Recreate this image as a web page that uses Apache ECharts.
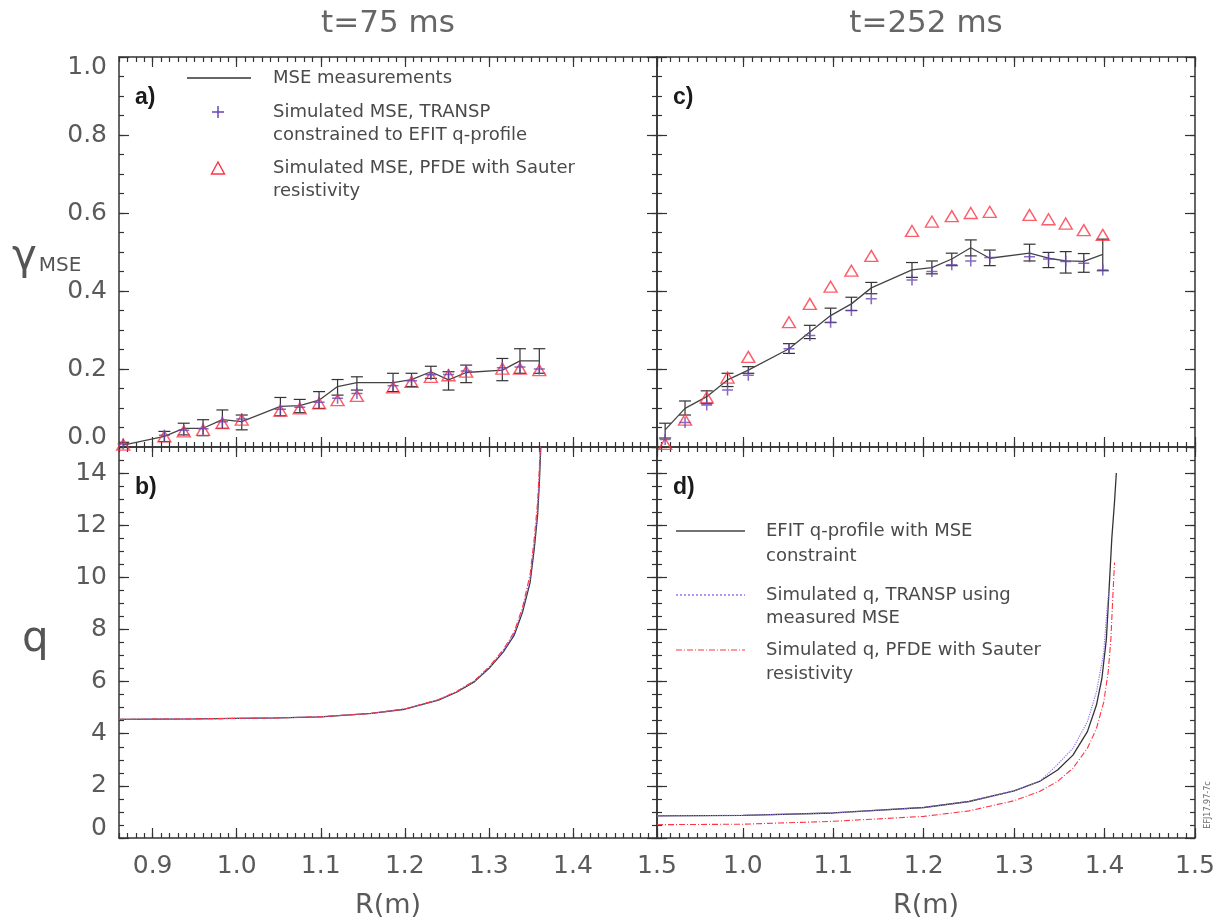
<!DOCTYPE html>
<html><head><meta charset="utf-8">
<script src="https://cdn.jsdelivr.net/npm/echarts@6/dist/echarts.min.js"></script>
<style>html,body{margin:0;padding:0;background:#fff}#c{width:1227px;height:924px}</style>
</head><body><div id="c"></div><script>
// ---------- Panel a (t=75 ms, gamma_MSE) ----------
var aR      = [0.865,0.914,0.937,0.960,0.983,1.006,1.052,1.075,1.098,1.120,1.143,1.186,1.208,1.231,1.252,1.273,1.316,1.337,1.360];
var aMSE    = [0.005,0.027,0.048,0.048,0.070,0.065,0.104,0.106,0.120,0.155,0.165,0.165,0.173,0.193,0.172,0.191,0.197,0.221,0.221];
var aErrLo  = [0.000,0.014,0.031,0.029,0.048,0.044,0.080,0.088,0.099,0.133,0.146,0.142,0.155,0.176,0.146,0.165,0.170,0.189,0.189];
var aErrHi  = [0.012,0.040,0.061,0.070,0.095,0.082,0.127,0.122,0.142,0.173,0.180,0.189,0.189,0.207,0.193,0.210,0.227,0.252,0.252];
var aTRANSP = [0.008,0.030,0.043,0.047,0.065,0.072,0.097,0.102,0.115,0.125,0.137,0.157,0.170,0.185,0.186,0.195,0.203,0.205,0.200];
var aPFDE   = [0.006,0.027,0.040,0.044,0.061,0.070,0.093,0.099,0.112,0.120,0.131,0.153,0.167,0.180,0.184,0.193,0.201,0.201,0.197];

// ---------- Panel c (t=252 ms, gamma_MSE) ----------
var cR      = [0.914,0.936,0.960,0.983,1.006,1.051,1.074,1.097,1.120,1.142,1.187,1.209,1.231,1.252,1.273,1.317,1.338,1.357,1.377,1.398];
var cMSE    = [0.044,0.099,0.129,0.172,0.197,0.252,0.295,0.337,0.367,0.408,0.454,0.460,0.482,0.511,0.484,0.497,0.484,0.477,0.476,0.494];
var cErrLo  = [0.023,0.082,0.112,0.155,0.189,0.240,0.278,0.319,0.350,0.393,0.435,0.444,0.465,0.490,0.465,0.477,0.460,0.446,0.448,0.452];
var cErrHi  = [0.061,0.118,0.144,0.189,0.206,0.265,0.312,0.356,0.384,0.422,0.473,0.477,0.497,0.531,0.505,0.520,0.499,0.501,0.496,0.533];
var cTRANSP = [0.019,0.063,0.108,0.146,0.184,0.252,0.286,0.320,0.350,0.380,0.428,0.450,0.467,0.477,0.486,0.488,0.482,0.476,0.471,0.454];
var cPFDE   = [0.008,0.070,0.127,0.178,0.231,0.320,0.367,0.411,0.452,0.490,0.554,0.578,0.592,0.600,0.603,0.595,0.584,0.573,0.556,0.544];

// ---------- Panel b (t=75 ms, q) ----------
var bR      = [0.86,0.95,1.00,1.05,1.10,1.16,1.20,1.24,1.262,1.283,1.300,1.317,1.330,1.340,1.349,1.354,1.358,1.360,1.362];
var bEFIT   = [4.55,4.57,4.59,4.61,4.65,4.78,4.94,5.29,5.60,6.00,6.50,7.13,7.77,8.66,9.80,11.1,12.4,13.6,15.2];
var bTRANSP = [4.55,4.57,4.59,4.61,4.65,4.78,4.95,5.30,5.62,6.02,6.53,7.18,7.83,8.75,9.92,11.3,12.6,13.8,15.4];
var bPFDE   = [4.55,4.57,4.59,4.61,4.65,4.78,4.95,5.31,5.63,6.04,6.56,7.22,7.90,8.85,10.1,11.5,12.9,14.2,15.6];

// ---------- Panel d (t=252 ms, q) ----------
var dR_EFIT   = [0.905,1.000,1.100,1.200,1.250,1.300,1.328,1.348,1.365,1.381,1.391,1.397,1.402,1.405,1.408,1.411,1.413];
var dEFIT     = [0.85,0.87,0.96,1.17,1.40,1.81,2.17,2.61,3.18,4.08,5.10,6.11,7.64,9.55,11.5,12.9,14.0];
var dR_TRANSP = [0.905,1.000,1.100,1.200,1.250,1.300,1.328,1.344,1.365,1.381,1.391,1.399,1.403,1.405];
var dTRANSP   = [0.85,0.87,0.96,1.17,1.40,1.81,2.17,2.68,3.44,4.46,5.60,7.10,8.90,9.50];
var dR_PFDE   = [0.905,1.000,1.100,1.200,1.250,1.300,1.328,1.348,1.365,1.381,1.391,1.399,1.404,1.407,1.409,1.411];
var dPFDE     = [0.51,0.53,0.64,0.83,1.04,1.43,1.78,2.17,2.68,3.44,4.20,5.20,6.37,7.64,9.17,10.57];

// ---------- Axes ----------
var xLeftRange  = [0.86, 1.5];
var xRightRange = [0.905, 1.5];
var xMajorTicks = [0.9, 1.0, 1.1, 1.2, 1.3, 1.4, 1.5];
var gammaRange = [0, 1.0];
var gammaTicks = [0, 0.2, 0.4, 0.6, 0.8, 1.0];
var qRange = [0, 15];
var qTicks = [0, 2, 4, 6, 8, 10, 12, 14];

function steps(a, b, st) {
  var out = [], n = Math.round((b - a) / st);
  for (var i = 0; i <= n; i++) out.push(+(a + i * st).toFixed(4));
  return out;
}
function within(arr, r) { return arr.filter(function (v) { return v >= r[0] - 1e-9 && v <= r[1] + 1e-9; }); }

var LABEL_COLOR = '#5a5a5a';
var FONT = 'DejaVu Sans';
var AX = '#333';

function xAxesFor(gi, range, labels, name) {
  var majors = within(xMajorTicks, range);
  var minors = within(steps(0.8, 1.5, 0.01), range);
  function base(pos, isMajor, main) {
    return {
      type: 'value', gridIndex: gi, position: pos, min: range[0], max: range[1],
      axisLine: { show: main, onZero: false, lineStyle: { color: AX, width: 1.5 } },
      splitLine: { show: false },
      axisTick: { show: true, inside: true, length: isMajor ? 10 : 5, customValues: isMajor ? majors : minors,
                  lineStyle: { color: AX, width: 1.2 } },
      axisLabel: { show: false }
    };
  }
  var b = base('bottom', true, true);
  if (labels) {
    b.axisLabel = { show: true, customValues: majors, margin: 16, color: LABEL_COLOR, fontSize: 25, fontFamily: FONT,
                    formatter: function (v) { return v.toFixed(1); } };
  }
  if (name) {
    b.name = name; b.nameLocation = 'middle'; b.nameGap = 54;
    b.nameTextStyle = { color: LABEL_COLOR, fontSize: 27, fontFamily: FONT };
  }
  return [b, base('bottom', false, false), base('top', true, true), base('top', false, false)];
}

function yAxesFor(gi, range, majorsAll, minorStep, labels, fmt) {
  var majors = within(majorsAll, range);
  var minors = within(steps(range[0], range[1], minorStep), range);
  function base(pos, isMajor, main) {
    return {
      type: 'value', gridIndex: gi, position: pos, min: range[0], max: range[1],
      axisLine: { show: main, onZero: false, lineStyle: { color: AX, width: 1.5 } },
      splitLine: { show: false },
      axisTick: { show: true, inside: true, length: isMajor ? 10 : 5, customValues: isMajor ? majors : minors,
                  lineStyle: { color: AX, width: 1.2 } },
      axisLabel: { show: false }
    };
  }
  var l = base('left', true, true);
  if (labels) {
    var rs = { color: LABEL_COLOR, fontSize: 25, fontFamily: FONT };
    l.axisLabel = { show: true, customValues: majors, margin: 12, color: LABEL_COLOR, fontSize: 25, fontFamily: FONT,
      formatter: fmt,
      rich: {
        n: rs,
        up: Object.assign({ padding: [0, 0, 20, 0] }, rs),
        dn: Object.assign({ padding: [20, 0, 0, 0] }, rs)
      } };
  }
  return [l, base('left', false, false), base('right', true, true), base('right', false, false)];
}

var gammaFmt = function (v) {
  if (Math.abs(v) < 1e-9) return '{up|0.0}';
  if (Math.abs(v - 1) < 1e-9) return '{dn|1.0}';
  return '{n|' + v.toFixed(1) + '}';
};
var qFmt = function (v) {
  if (Math.abs(v) < 1e-9) return '{up|0}';
  return '{n|' + v + '}';
};

// grids: 0=a, 1=c, 2=b, 3=d
var grids = [
  { left: 119, top: 57, width: 538, height: 390 },
  { left: 657, top: 57, width: 538, height: 390 },
  { left: 119, top: 447, width: 538, height: 391 },
  { left: 657, top: 447, width: 538, height: 391 }
].map(function (g) { g.containLabel = false; g.outerBoundsMode = 'none'; return g; });

var xAxes = [].concat(
  xAxesFor(0, xLeftRange, false),
  xAxesFor(1, xRightRange, false),
  xAxesFor(2, xLeftRange, true, 'R(m)'),
  xAxesFor(3, xRightRange, true, 'R(m)')
);
var yAxes = [].concat(
  yAxesFor(0, gammaRange, gammaTicks, 0.05, true, gammaFmt),
  yAxesFor(1, gammaRange, gammaTicks, 0.05, false),
  yAxesFor(2, qRange, qTicks, 0.5, true, qFmt),
  yAxesFor(3, qRange, qTicks, 0.5, false)
);
// main axis index for grid g is 4*g

var PURPLE = '#6a45b0';
var PURPLE_LINE = '#9a74ec';
var RED = '#ff3344';
var PLUS = 'path://M4.3,0H5.7V4.3H10V5.7H5.7V10H4.3V5.7H0V4.3H4.3Z';

function zip(xs, ys) { return xs.map(function (x, i) { return [x, ys[i]]; }); }

function errSeries(g, xs, lo, hi) {
  return {
    type: 'custom', xAxisIndex: 4 * g, yAxisIndex: 4 * g, clip: true, z: 3,
    data: xs.map(function (x, i) { return [x, lo[i], hi[i]]; }),
    encode: { x: 0, y: [1, 2] },
    renderItem: function (params, api) {
      var x = api.value(0);
      var p1 = api.coord([x, api.value(1)]), p2 = api.coord([x, api.value(2)]);
      var w = 6, st = { stroke: '#333', lineWidth: 1.2 };
      return { type: 'group', children: [
        { type: 'line', shape: { x1: p1[0], y1: p1[1], x2: p2[0], y2: p2[1] }, style: st },
        { type: 'line', shape: { x1: p1[0] - w, y1: p1[1], x2: p1[0] + w, y2: p1[1] }, style: st },
        { type: 'line', shape: { x1: p2[0] - w, y1: p2[1], x2: p2[0] + w, y2: p2[1] }, style: st }
      ] };
    }
  };
}
function mseLine(g, xs, ys) {
  return { type: 'line', xAxisIndex: 4 * g, yAxisIndex: 4 * g, data: zip(xs, ys), showSymbol: false, symbol: 'none',
           lineStyle: { color: '#444', width: 1.3 }, z: 3 };
}
function triSeries(g, xs, ys) {
  return { type: 'scatter', xAxisIndex: 4 * g, yAxisIndex: 4 * g, data: zip(xs, ys), symbol: 'triangle', symbolSize: [13, 11],
           itemStyle: { color: 'rgba(0,0,0,0)', borderColor: RED, borderWidth: 1.4 }, z: 4 };
}
function plusSeries(g, xs, ys) {
  return { type: 'scatter', xAxisIndex: 4 * g, yAxisIndex: 4 * g, data: zip(xs, ys), symbol: PLUS, symbolSize: 11,
           itemStyle: { color: PURPLE }, z: 5 };
}
function qLine(g, xs, ys, color, type, width) {
  return { type: 'line', xAxisIndex: 4 * g, yAxisIndex: 4 * g, data: zip(xs, ys), showSymbol: false, symbol: 'none',
           smooth: false, clip: true,
           lineStyle: { color: color, width: width, type: type }, z: 3 };
}

var series = [
  errSeries(0, aR, aErrLo, aErrHi), mseLine(0, aR, aMSE), triSeries(0, aR, aPFDE), plusSeries(0, aR, aTRANSP),
  errSeries(1, cR, cErrLo, cErrHi), mseLine(1, cR, cMSE), triSeries(1, cR, cPFDE), plusSeries(1, cR, cTRANSP),
  qLine(2, bR, bEFIT, '#333', 'solid', 1.3),
  qLine(2, bR, bTRANSP, PURPLE_LINE, 'dotted', 1.2),
  qLine(2, bR, bPFDE, RED, [6, 2, 1, 2], 1.1),
  qLine(3, dR_EFIT, dEFIT, '#333', 'solid', 1.3),
  qLine(3, dR_TRANSP, dTRANSP, PURPLE_LINE, 'dotted', 1.2),
  qLine(3, dR_PFDE, dPFDE, RED, [6, 2, 1, 2], 1.1)
];

var LT = { fill: '#4a4a4a', font: '18px "DejaVu Sans"', verticalAlign: 'middle', align: 'left' };
function txt(x, y, s, extra) { return { type: 'text', x: x, y: y, style: Object.assign({ text: s }, LT, extra || {}), z: 10 }; }
function ln(x1, y1, x2, y2, stroke, w, dash) {
  return { type: 'line', shape: { x1: x1, y1: y1, x2: x2, y2: y2 }, style: { stroke: stroke, lineWidth: w, lineDash: dash || null }, z: 10 };
}

var graphic = [
  txt(388, 24, 't=75 ms', { font: '31px "DejaVu Sans"', fill: '#666', align: 'center' }),
  txt(926, 24, 't=252 ms', { font: '31px "DejaVu Sans"', fill: '#666', align: 'center' }),
  { type: 'text', x: 12, y: 258, z: 10, style: { text: '{g|γ}{s|MSE}', verticalAlign: 'middle', rich: {
      g: { font: '42px "DejaVu Sans"', fill: '#555' },
      s: { font: '20px "DejaVu Sans"', fill: '#555', padding: [16, 0, 0, 2] } } } },
  txt(22, 640, 'q', { font: '42px "DejaVu Sans"', fill: '#555' }),
  txt(135, 98, 'a)', { font: 'bold 23px "Liberation Sans"', fill: '#1a1a1a' }),
  txt(135, 488, 'b)', { font: 'bold 23px "Liberation Sans"', fill: '#1a1a1a' }),
  txt(673, 98, 'c)', { font: 'bold 23px "Liberation Sans"', fill: '#1a1a1a' }),
  txt(673, 488, 'd)', { font: 'bold 23px "Liberation Sans"', fill: '#1a1a1a' }),
  // legend panel a
  ln(187, 78, 251, 78, '#333', 1.3),
  txt(273, 78, 'MSE measurements'),
  ln(212, 112, 224, 112, PURPLE, 1.5), ln(218, 106, 218, 118, PURPLE, 1.5),
  txt(273, 112, 'Simulated MSE, TRANSP'),
  txt(273, 135, 'constrained to EFIT q-profile'),
  { type: 'polygon', shape: { points: [[218, 162], [211.5, 174], [224.5, 174]] }, style: { fill: 'none', stroke: RED, lineWidth: 1.4 }, z: 10 },
  txt(273, 168, 'Simulated MSE, PFDE with Sauter'),
  txt(273, 191, 'resistivity'),
  // legend panel d
  ln(676, 531, 745, 531, '#444', 1.6),
  txt(766, 531, 'EFIT q-profile with MSE'),
  txt(766, 556, 'constraint'),
  ln(676, 595, 745, 595, PURPLE_LINE, 1.3, [2, 2]),
  txt(766, 595, 'Simulated q, TRANSP using'),
  txt(766, 618, 'measured MSE'),
  ln(676, 650, 745, 650, RED, 1.1, [6, 2, 1, 2]),
  txt(766, 650, 'Simulated q, PFDE with Sauter'),
  txt(766, 674, 'resistivity'),
  { type: 'text', x: 1208, y: 805, rotation: Math.PI / 2, z: 10,
    style: { text: 'EFJ17.97-7c', font: '8px "DejaVu Sans"', fill: '#666', align: 'center', verticalAlign: 'middle' } }
];

var chart = echarts.init(document.getElementById('c'));
chart.setOption({
  animation: false,
  backgroundColor: '#fff',
  grid: grids,
  xAxis: xAxes,
  yAxis: yAxes,
  series: series,
  graphic: graphic
});
</script></body></html>
